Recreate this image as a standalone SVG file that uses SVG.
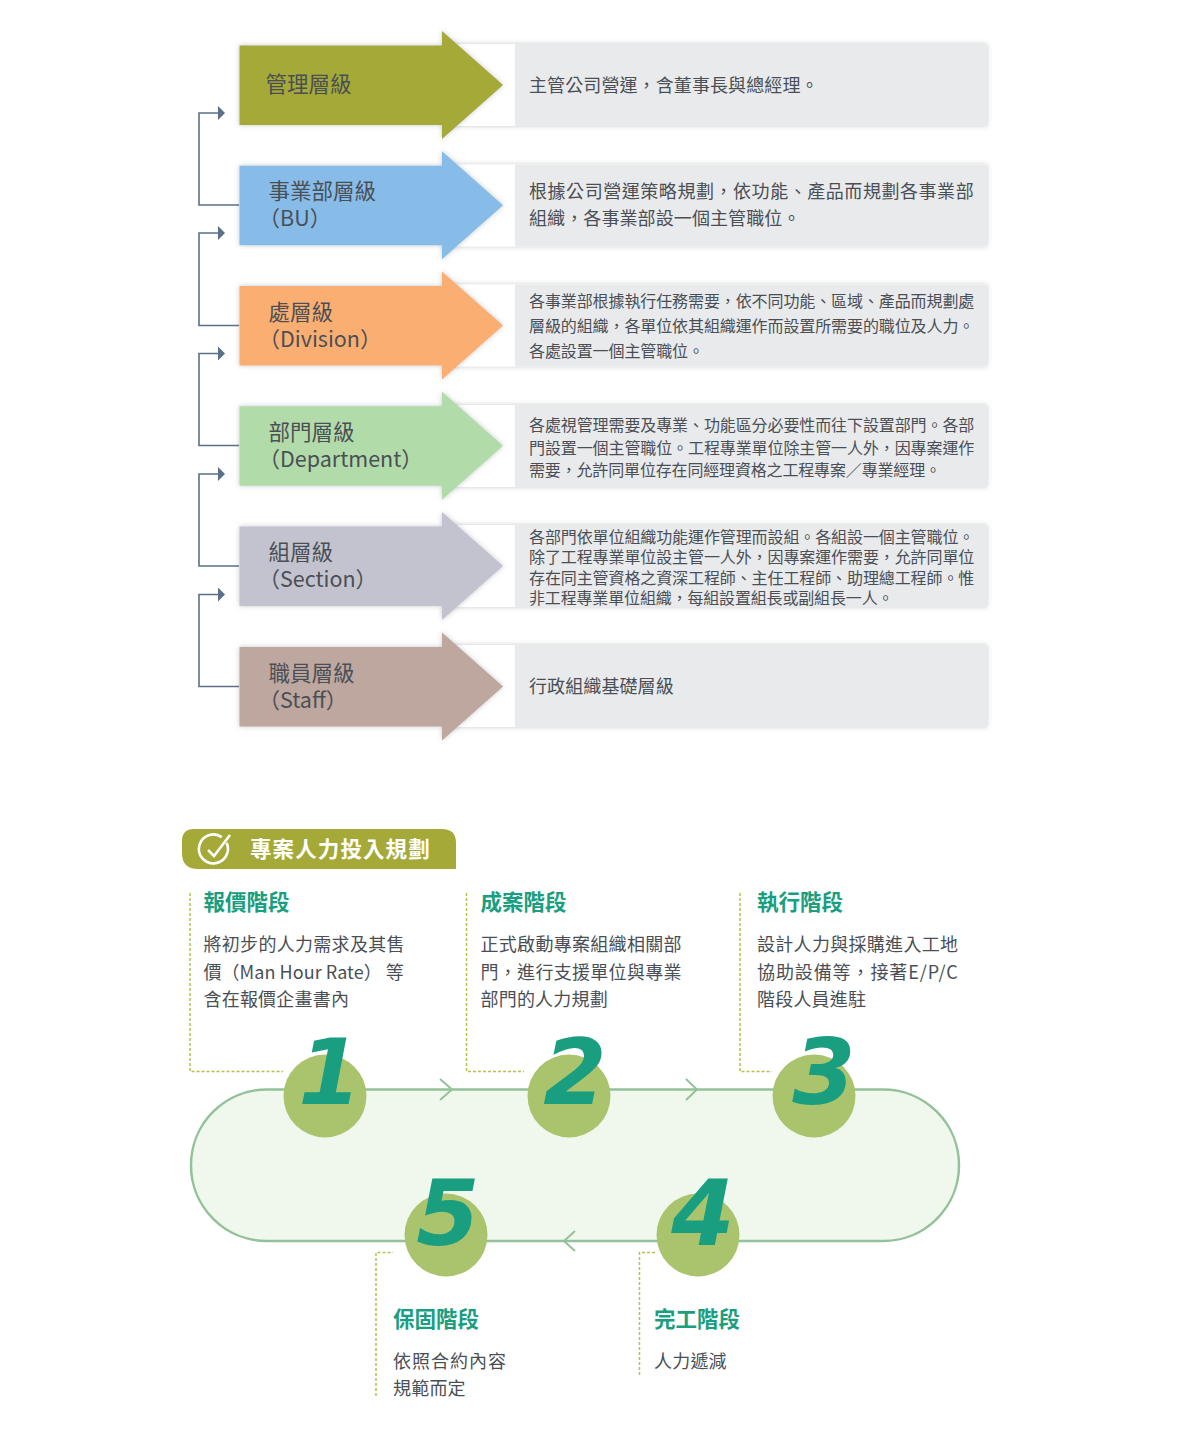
<svg xmlns="http://www.w3.org/2000/svg" width="1200" height="1435" viewBox="0 0 1200 1435">
<style>
text{font-family:"Noto Sans CJK TC","Noto Sans",sans-serif;fill:#4a4f55}
.lab{font-size:21.5px}
.d18{font-size:18px;letter-spacing:.1px}
.j18{font-size:18px;letter-spacing:.55px}
.d16{font-size:16px;letter-spacing:-.1px}
.h{font-size:21.5px;font-weight:700;fill:#1a9e80}
.b{font-size:18px;letter-spacing:.2px}
.n{font-family:"DejaVu Sans",sans-serif;font-size:91px;font-weight:700;font-style:italic;fill:#1a9e80;text-anchor:middle}
.panel{fill:#e9eaec}
.strip{fill:#fff}
.conn{fill:none;stroke:#5a7088;stroke-width:1.6}
.dash{fill:none;stroke:#b7c04e;stroke-width:1.5;stroke-dasharray:3 2}
.chev{fill:none;stroke:#93c29a;stroke-width:2}
.c{fill:#a9c46c}
</style>
<defs>
<filter id="sh" x="-5%" y="-15%" width="110%" height="130%"><feDropShadow dx="0" dy="0" stdDeviation="2.5" flood-color="#5a6470" flood-opacity=".35"/></filter>
<marker id="ah" markerUnits="userSpaceOnUse" markerWidth="8" markerHeight="14" refX="0" refY="7" orient="auto"><path d="M0 0L7 7L0 14Z" fill="#5a7088"/></marker>
<path id="arrow" d="M239.500 45.500H442V31L503 85L442 139V125H239.500Z"/>
</defs>
<g id="connectors">
<path class="conn" marker-end="url(#ah)" d="M239 205H199V113H218"/>
<path class="conn" marker-end="url(#ah)" d="M239 325.500H199V233H218"/>
<path class="conn" marker-end="url(#ah)" d="M239 445.500H199V353.500H218"/>
<path class="conn" marker-end="url(#ah)" d="M239 566H199V474H218"/>
<path class="conn" marker-end="url(#ah)" d="M239 686.500H199V594.500H218"/>
</g>
<g id="row1">
<rect class="strip" x="450" y="44" width="537" height="82" filter="url(#sh)"/><rect class="panel" x="515" y="44" width="472" height="82"/>
<use href="#arrow" fill="#a5a938" filter="url(#sh)"/>
<text class="lab" x="265.500" y="91.500">管理層級</text>
<text class="d18" x="529" y="92">主管公司營運，含董事長與總經理。</text>
</g>
<g id="row2">
<rect class="strip" x="450" y="164.500" width="537" height="82" filter="url(#sh)"/><rect class="panel" x="515" y="164.500" width="472" height="82"/>
<use href="#arrow" y="120.300" fill="#88bce8" filter="url(#sh)"/>
<text class="lab" x="268.500" y="198.500">事業部層級</text><text class="lab" x="258.500" y="225.500">（BU）</text>
<text class="j18" x="529" y="198">根據公司營運策略規劃，依功能、產品而規劃各事業部</text>
<text class="d18" x="529" y="225">組織，各事業部設一個主管職位。</text>
</g>
<g id="row3">
<rect class="strip" x="450" y="284.500" width="537" height="82" filter="url(#sh)"/><rect class="panel" x="515" y="284.500" width="472" height="82"/>
<use href="#arrow" y="240.500" fill="#fbae72" filter="url(#sh)"/>
<text class="lab" x="268.500" y="319.500">處層級</text><text class="lab" x="258.500" y="346.500">（Division）</text>
<text class="d16" x="529" y="307">各事業部根據執行任務需要，依不同功能、區域、產品而規劃處</text>
<text class="d16" x="529" y="332">層級的組織，各單位依其組織運作而設置所需要的職位及人力。</text>
<text class="d16" x="529" y="357">各處設置一個主管職位。</text>
</g>
<g id="row4">
<rect class="strip" x="450" y="405" width="537" height="82" filter="url(#sh)"/><rect class="panel" x="515" y="405" width="472" height="82"/>
<use href="#arrow" y="360.800" fill="#b2dbaa" filter="url(#sh)"/>
<text class="lab" x="268.500" y="439.500">部門層級</text><text class="lab" x="258.500" y="466.500">（Department）</text>
<text class="d16" x="529" y="431">各處視管理需要及專業、功能區分必要性而往下設置部門。各部</text>
<text class="d16" x="529" y="454">門設置一個主管職位。工程專業單位除主管一人外，因專案運作</text>
<text class="d16" x="529" y="476" style="letter-spacing:-.16px">需要，允許同單位存在同經理資格之工程專案／專業經理。</text>
</g>
<g id="row5">
<rect class="strip" x="450" y="525" width="537" height="82" filter="url(#sh)"/><rect class="panel" x="515" y="525" width="472" height="82"/>
<use href="#arrow" y="481" fill="#c2c3cf" filter="url(#sh)"/>
<text class="lab" x="268.500" y="559.500">組層級</text><text class="lab" x="258.500" y="586.500">（Section）</text>
<text class="d16" x="529" y="543">各部門依單位組織功能運作管理而設組。各組設一個主管職位。</text>
<text class="d16" x="529" y="563">除了工程專業單位設主管一人外，因專案運作需要，允許同單位</text>
<text class="d16" x="529" y="584">存在同主管資格之資深工程師、主任工程師、助理總工程師。惟</text>
<text class="d16" x="529" y="604" style="letter-spacing:-.16px">非工程專業單位組織，每組設置組長或副組長一人。</text>
</g>
<g id="row6">
<rect class="strip" x="450" y="645" width="537" height="82" filter="url(#sh)"/><rect class="panel" x="515" y="645" width="472" height="82"/>
<use href="#arrow" y="601.500" fill="#bda79f" filter="url(#sh)"/>
<text class="lab" x="268.500" y="680.500">職員層級</text><text class="lab" x="258.500" y="707.500">（Staff）</text>
<text class="d18" x="529" y="692.500">行政組織基礎層級</text>
</g>
<g id="header">
<path d="M194 829H442Q456 829 456 843V869H198Q182 869 182 853V841Q182 829 194 829Z" fill="#a5a938"/>
<path d="M226.600 842.900A14.500 14.500 0 1 1 221.800 837.100" fill="none" stroke="#fff" stroke-width="2.600"/>
<path d="M208 850L214 856L230 835" fill="none" stroke="#fff" stroke-width="2.600"/>
<text x="250" y="857" font-size="21.500" font-weight="700" letter-spacing="1.100" style="fill:#fff">專案人力投入規劃</text>
</g>
<g id="loop">
<rect x="191" y="1089.500" width="768" height="151.500" rx="75.750" fill="#f0f8ee" stroke="#93c29a" stroke-width="2.500"/>
<path class="chev" d="M440 1079L452 1089.500L440 1100"/>
<path class="chev" d="M686 1079L697 1089.500L686 1100"/>
<path class="chev" d="M575 1231L564 1241L575 1251"/>
</g>
<g id="leaders">
<path class="dash" d="M190 893V1071.500H283"/>
<path class="dash" d="M466.500 893V1071.500H524"/>
<path class="dash" d="M740 893V1071.500H772"/>
<path class="dash" d="M376 1396V1252.500H393"/>
<path class="dash" d="M639.500 1375V1252.500H657"/>
</g>
<g id="step1"><circle class="c" cx="325" cy="1096" r="41.500"/><text class="n" x="330" y="1104">1</text>
<text class="h" x="203.500" y="910">報價階段</text>
<text class="b" x="203.500" y="951" style="letter-spacing:.3px">將初步的人力需求及其售</text><text class="b" x="203.500" y="979" style="letter-spacing:.05px">價（Man Hour Rate） 等</text><text class="b" x="203.500" y="1006">含在報價企畫書內</text></g>
<g id="step2"><circle class="c" cx="569" cy="1096" r="41.500"/><text class="n" x="575" y="1104">2</text>
<text class="h" x="480.500" y="910">成案階段</text>
<text class="b" x="480.500" y="951" style="letter-spacing:.3px">正式啟動專案組織相關部</text><text class="b" x="480.500" y="979" style="letter-spacing:.3px">門，進行支援單位與專業</text><text class="b" x="480.500" y="1006">部門的人力規劃</text></g>
<g id="step3"><circle class="c" cx="814" cy="1096" r="41.500"/><text class="n" x="824" y="1104">3</text>
<text class="h" x="757" y="910">執行階段</text>
<text class="b" x="757" y="951" style="letter-spacing:.3px">設計人力與採購進入工地</text><text class="b" x="757" y="979" style="letter-spacing:.9px">協助設備等，接著E/P/C</text><text class="b" x="757" y="1006">階段人員進駐</text></g>
<g id="step4"><circle class="c" cx="698" cy="1235" r="41.500"/><text class="n" x="703" y="1245">4</text>
<text class="h" x="654" y="1327">完工階段</text>
<text class="b" x="654" y="1368">人力遞減</text></g>
<g id="step5"><circle class="c" cx="446" cy="1235" r="41.500"/><text class="n" x="448" y="1245">5</text>
<text class="h" x="393" y="1327">保固階段</text>
<text class="b" x="393" y="1368" style="letter-spacing:1px">依照合約內容</text><text class="b" x="393" y="1395">規範而定</text></g>
</svg>
